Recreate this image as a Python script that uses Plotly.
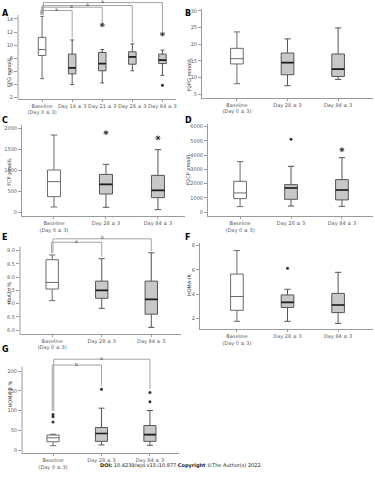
import plotly.graph_objects as go

# ------------------------- data -------------------------
labels5 = ["Baseline<br>(Day 0 ± 3)", "Day 14 ± 3", "Day 21 ± 3", "Day 28 ± 3", "Day 84 ± 3"]
labels3 = ["Baseline<br>(Day 0 ± 3)", "Day 28 ± 3", "Day 84 ± 3"]

# A: FPG mmol/L
A_low = [4.9, 4.0, 4.25, 6.1, 5.4]
A_q1 = [8.44, 5.63, 6.1, 7.1, 7.2]
A_med = [9.35, 6.55, 7.2, 8.23, 7.73]
A_q3 = [11.2, 8.65, 8.9, 9.0, 8.65]
A_high = [14.4, 10.8, 9.35, 10.2, 9.25]
A_star_x = [2, 4]
A_star_y = [13.1, 11.7]
A_dot_x = [4]
A_dot_y = [3.9]

# B: P2PG mmol/L
B_low = [8.1, 7.5, 9.4]
B_q1 = [14.05, 10.8, 10.3]
B_med = [15.65, 14.45, 12.5]
B_q3 = [18.75, 17.35, 17.05]
B_high = [23.7, 21.6, 24.9]

# C: FCP pmol/L
C_low = [120, 112, 56]
C_q1 = [367, 430, 343]
C_med = [725, 661, 518]
C_q3 = [1004, 900, 876]
C_high = [1840, 1140, 1490]
C_star_x = [1, 2]
C_star_y = [1896, 1770]

# D: P2CP pmol/L
D_low = [380, 420, 400]
D_q1 = [940, 895, 850]
D_med = [1340, 1690, 1550]
D_q3 = [2160, 1925, 2280]
D_high = [3540, 3210, 3820]
D_star_x = [2]
D_star_y = [4380]
D_dot_x = [1]
D_dot_y = [5110]

# E: HbA1c %
E_low = [7.11, 6.82, 6.1]
E_q1 = [7.55, 7.2, 6.6]
E_med = [7.8, 7.5, 7.16]
E_q3 = [8.66, 7.85, 7.85]
E_high = [8.84, 8.7, 8.92]

# F: HOMA-IR
F_low = [1.75, 1.75, 1.58]
F_q1 = [2.66, 2.9, 2.47]
F_med = [3.8, 3.32, 3.1]
F_q3 = [5.66, 3.93, 4.06]
F_high = [7.6, 4.4, 5.8]
F_dot_x = [1]
F_dot_y = [6.13]

# G: HOMA-beta %
G_low = [11, 13, 12]
G_q1 = [21, 22, 22]
G_med = [31, 42, 39]
G_q3 = [38, 57, 62]
G_high = [40, 106, 100]
G_dot_x = [0, 0, 0, 1, 2, 2]
G_dot_y = [90, 84, 71, 154, 146, 122]

# significance comparisons (group pairs, label)
A_sig = [((0, 1), "a"), ((0, 2), "a"), ((0, 3), "a"), ((0, 4), "a")]
E_sig = [((0, 1), "a"), ((0, 2), "b")]
G_sig = [((0, 1), "b"), ((0, 2), "a")]

# ------------------------- layout config -------------------------
FONT = "DejaVu Sans"
panels = [
    dict(letter="A", title="FPG mmol/L", labels=labels5,
         stats=(A_low, A_q1, A_med, A_q3, A_high),
         stars=(A_star_x, A_star_y), dots=(A_dot_x, A_dot_y),
         xd=[0.048, 0.4693], yd=[0.7938, 0.9973], xr=[-0.8, 4.45], yr=[1.8, 16.7],
         ticks=[2, 4, 6, 8, 10, 12, 14], fmt="", axtop=14.6,
         sig=A_sig, sigh=[15.3, 15.8, 16.05, 16.5], gap=0.25, lpos=(0.0, 0.986), tpos=(0.010, 0.885)),
    dict(letter="B", title="P2PG mmol/L", labels=labels3,
         stats=(B_low, B_q1, B_med, B_q3, B_high), stars=None, dots=None,
         xd=[0.5387, 0.9947], yd=[0.7965, 0.9806], xr=[-0.69, 2.69], yr=[3.9, 30.5],
         ticks=[5, 10, 15, 20, 25, 30], fmt="", axtop=None,
         sig=None, lpos=(0.487, 0.986), tpos=(0.504, 0.885)),
    dict(letter="C", title="FCP pmol/L", labels=labels3,
         stats=(C_low, C_q1, C_med, C_q3, C_high), stars=(C_star_x, C_star_y), dots=None,
         xd=[0.0587, 0.4933], yd=[0.5496, 0.7396], xr=[-0.615, 2.52], yr=[-100, 2080],
         ticks=[0, 500, 1000, 1500, 2000], fmt="d", axtop=None,
         sig=None, lpos=(0.0, 0.762), tpos=(0.012, 0.642)),
    dict(letter="D", title="P2CP pmol/L", labels=labels3,
         stats=(D_low, D_q1, D_med, D_q3, D_high), stars=(D_star_x, D_star_y), dots=(D_dot_x, D_dot_y),
         xd=[0.5547, 0.9947], yd=[0.55, 0.7408], xr=[-0.63, 2.61], yr=[-280, 6160],
         ticks=[0, 1000, 2000, 3000, 4000, 5000, 6000], fmt="d", axtop=None,
         sig=None, lpos=(0.487, 0.762), tpos=(0.504, 0.646)),
    dict(letter="E", title="HbA1c %", labels=labels3,
         stats=(E_low, E_q1, E_med, E_q3, E_high), stars=None, dots=None,
         xd=[0.0533, 0.4827], yd=[0.3042, 0.5052], xr=[-0.65, 2.6], yr=[5.85, 9.5],
         ticks=[6.0, 6.5, 7.0, 7.5, 8.0, 8.5, 9.0], fmt=".1f", axtop=9.15,
         sig=E_sig, sigh=[9.32, 9.45], gap=0.07, lpos=(0.0, 0.505), tpos=(0.010, 0.39)),
    dict(letter="F", title="HOMA-IR", labels=labels3,
         stats=(F_low, F_q1, F_med, F_q3, F_high), stars=None, dots=(F_dot_x, F_dot_y),
         xd=[0.5333, 0.9947], yd=[0.3142, 0.4931], xr=[-0.73, 2.69], yr=[1.1, 8.2],
         ticks=[2, 4, 6, 8], fmt="", axtop=None,
         sig=None, lpos=(0.487, 0.505), tpos=(0.504, 0.406)),
    dict(letter="G", title="HOMA-β %", labels=labels3,
         stats=(G_low, G_q1, G_med, G_q3, G_high), stars=None, dots=(G_dot_x, G_dot_y),
         xd=[0.0587, 0.4773], yd=[0.0554, 0.2558], xr=[-0.64, 2.6], yr=[-8.5, 235],
         ticks=[0, 50, 100, 150, 200], fmt="", axtop=211,
         sig=G_sig, sigh=[215, 230], gap=9, lpos=(0.0, 0.259), tpos=(0.012, 0.146)),
]

BOXW = 0.25
LINE = "#555555"
GRAYFILL = "#c8c8c8"
BRACKET = "#a3a3a3"
TICKC = "#5a5a5a"

fig = go.Figure()
layout = dict(width=375, height=480, autosize=False, margin=dict(l=0, r=0, t=0, b=0, pad=0),
              paper_bgcolor="white", plot_bgcolor="white", showlegend=False,
              font=dict(family=FONT, size=5, color=TICKC))
shapes = []
annotations = []

for i, p in enumerate(panels):
    n = i + 1
    xa = "x" if n == 1 else f"x{n}"
    ya = "y" if n == 1 else f"y{n}"
    xk = "xaxis" if n == 1 else f"xaxis{n}"
    yk = "yaxis" if n == 1 else f"yaxis{n}"
    low, q1, med, q3, high = p["stats"]
    ng = len(p["labels"])

    for j in range(ng):
        fig.add_trace(go.Box(
            x=[j], q1=[q1[j]], median=[med[j]], q3=[q3[j]],
            lowerfence=[low[j]], upperfence=[high[j]], orientation="v",
            xaxis=xa, yaxis=ya, width=BOXW, whiskerwidth=0.5,
            fillcolor="white" if j == 0 else GRAYFILL,
            line=dict(color="#6a6a6a" if j == 0 else LINE, width=1),
            boxpoints=False, hoverinfo="skip"))
        if j > 0:
            fig.add_trace(go.Scatter(
                x=[j - BOXW / 2, j + BOXW / 2], y=[med[j], med[j]], mode="lines",
                line=dict(color="#1e1e1e", width=1.6), xaxis=xa, yaxis=ya, hoverinfo="skip"))

    if p["stars"]:
        fig.add_trace(go.Scatter(x=p["stars"][0], y=p["stars"][1], mode="markers",
                                 marker=dict(symbol="asterisk-open", size=4, color="#333",
                                             line=dict(color="#333", width=1)),
                                 xaxis=xa, yaxis=ya, cliponaxis=False, hoverinfo="skip"))
    if p["dots"]:
        fig.add_trace(go.Scatter(x=p["dots"][0], y=p["dots"][1], mode="markers",
                                 marker=dict(symbol="circle", size=3, color="#333"),
                                 xaxis=xa, yaxis=ya, cliponaxis=False, hoverinfo="skip"))

    layout[xk] = dict(domain=p["xd"], range=p["xr"], anchor=ya, showgrid=False, zeroline=False,
                      automargin=False, tickangle=0, fixedrange=True,
                      showline=True, linecolor="#9a9a9a", linewidth=1,
                      ticks="outside", ticklen=2, tickcolor="#9a9a9a",
                      tickvals=list(range(ng)), ticktext=p["labels"],
                      tickfont=dict(family=FONT, size=5, color=TICKC))
    layout[yk] = dict(domain=p["yd"], range=p["yr"], anchor=xa, showgrid=False, zeroline=False,
                      automargin=False, fixedrange=True,
                      showline=p["axtop"] is None, linecolor="#9a9a9a", linewidth=1,
                      ticks="outside", ticklen=3, tickcolor="#9a9a9a",
                      tickvals=p["ticks"], tickformat=p["fmt"],
                      tickfont=dict(family=FONT, size=5, color=TICKC))

    r0, r1 = p["yr"]
    if p["axtop"] is not None:
        shapes.append(dict(type="line", xref=f"{xa} domain", yref=f"{ya} domain",
                           x0=0, x1=0, y0=0, y1=(p["axtop"] - r0) / (r1 - r0),
                           line=dict(color="#9a9a9a", width=1)))

    if p["sig"]:
        nsig = len(p["sig"])
        sx = list(p["stars"][0]) if p["stars"] else []
        sy = list(p["stars"][1]) if p["stars"] else []
        dx = list(p["dots"][0]) if p["dots"] else []
        dy = list(p["dots"][1]) if p["dots"] else []

        def allmax(g):
            vals = [high[g]] + [yy for xx, yy in zip(sx + dx, sy + dy) if xx == g]
            return max(vals)

        for k, (((g0, g1), lab), h) in enumerate(zip(p["sig"], p["sigh"])):
            xl = g0 - 0.03 * (nsig - 1) / 2 + 0.03 * k
            xr_ = g1
            for seg in [(xl, allmax(g0) + p["gap"], xl, h), (xl, h, xr_, h),
                        (xr_, h, xr_, allmax(g1) + p["gap"])]:
                shapes.append(dict(type="line", xref=xa, yref=ya, x0=seg[0], y0=seg[1],
                                   x1=seg[2], y1=seg[3], line=dict(color=BRACKET, width=1)))
            annotations.append(dict(x=(xl + xr_) / 2, y=h, xref=xa, yref=ya, text=lab,
                                    showarrow=False, yanchor="middle", yshift=1,
                                    font=dict(family=FONT, size=4.5, color="#333")))

    annotations.append(dict(x=p["lpos"][0], y=p["lpos"][1], xref="paper", yref="paper",
                            xanchor="left", text=f"<b>{p['letter']}</b>", showarrow=False,
                            font=dict(family=FONT, size=8, color="#000")))
    annotations.append(dict(x=p["tpos"][0], y=p["tpos"][1], xref="paper", yref="paper",
                            text=p["title"], textangle=-90, showarrow=False,
                            font=dict(family=FONT, size=5, color="#333")))

annotations.append(dict(x=0.262, y=0.0187, xref="paper", yref="paper",
                        text="<b>DOI:</b> 10.4239/wjd.v13.i10.877 <b>Copyright</b> ©The Author(s) 2022.",
                        showarrow=False, font=dict(family=FONT, size=5, color="#222")))

layout["shapes"] = shapes
layout["annotations"] = annotations
fig.update_layout(**layout)
fig.write_html("out.html", config={"displayModeBar": False, "staticPlot": True},
               post_script="document.body.style.margin='0';document.body.style.padding='0';")
